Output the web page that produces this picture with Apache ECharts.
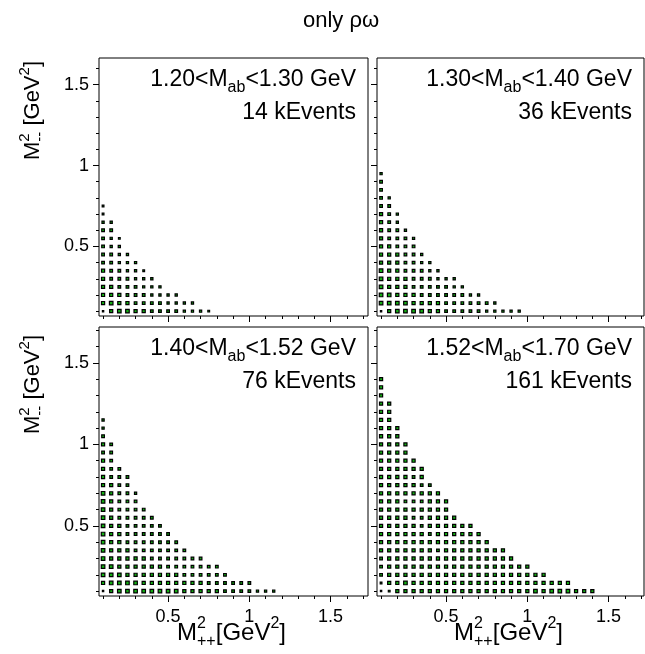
<!DOCTYPE html>
<html>
<head>
<meta charset="utf-8">
<script src="https://cdn.jsdelivr.net/npm/echarts@6/dist/echarts.min.js"></script>
<style>
  html, body { margin: 0; padding: 0; background: #fff; }
  #chart { width: 645px; height: 654px; }
</style>
</head>
<body>
<div id="chart"></div>
<script>
// Bin centres of the 2D histograms (GeV^2), shared by both axes
const binCenters = [0.10, 0.15, 0.20, 0.25, 0.30, 0.35, 0.40, 0.45, 0.50, 0.55, 0.60, 0.65, 0.70,
                    0.75, 0.80, 0.85, 0.90, 0.95, 1.00, 1.05, 1.10, 1.15, 1.20, 1.25, 1.30, 1.35, 1.40];

// Axis ticks
const majorTicks = [0.5, 1.0, 1.5];
const minorTicks = [0.1, 0.2, 0.3, 0.4, 0.6, 0.7, 0.8, 0.9, 1.1, 1.2, 1.3, 1.4, 1.6, 1.7];

// Mass windows and event counts of the four slices
const windowLow  = ['1.20', '1.30', '1.40', '1.52'];
const windowHigh = ['1.30', '1.40', '1.52', '1.70'];
const kEvents    = [14, 36, 76, 161];

// Relative bin contents; one array per M--^2 row (starting at 0.10), one entry per M++^2 bin (starting at 0.10)
const slice1 = [
  [2, 6, 7, 7, 6, 6, 5, 5, 5, 5, 4, 4, 4, 3],
  [6, 7, 6, 6, 5, 5, 5, 5, 4, 4, 4, 4],
  [6, 6, 6, 5, 5, 5, 4, 4, 4, 4],
  [6, 6, 5, 5, 5, 4, 4, 4],
  [6, 5, 5, 5, 4, 4, 4],
  [6, 5, 5, 4, 4, 3],
  [5, 5, 4, 4, 4],
  [5, 5, 4, 4],
  [5, 4, 4],
  [5, 4, 3],
  [5, 5],
  [4, 4],
  [3],
  [3]
];
const slice2 = [
  [2, 6, 7, 7, 7, 7, 6, 6, 5, 5, 5, 5, 5, 4, 4, 4, 4, 4],
  [7, 7, 7, 7, 6, 6, 6, 6, 5, 5, 5, 5, 5, 5, 4],
  [7, 7, 6, 6, 6, 5, 5, 5, 5, 5, 5, 4, 4],
  [7, 6, 6, 6, 5, 5, 5, 5, 5, 4, 4],
  [7, 6, 6, 6, 5, 5, 5, 4, 4, 4],
  [7, 6, 6, 5, 5, 5, 4, 4],
  [6, 6, 6, 5, 5, 4, 4],
  [6, 6, 6, 5, 5, 4],
  [6, 6, 5, 5, 5],
  [6, 5, 5, 5, 4],
  [6, 5, 5, 4],
  [6, 5, 4],
  [6, 5, 4],
  [5, 5],
  [5, 4],
  [5],
  [5],
  [4]
];
const slice3 = [
  [2, 6, 7, 7, 7, 7, 7, 7, 7, 7, 6, 6, 6, 6, 6, 5, 5, 5, 5, 4, 4, 4],
  [6, 7, 7, 7, 7, 6, 6, 6, 6, 6, 6, 6, 6, 5, 5, 5, 5, 5, 5],
  [7, 7, 7, 6, 6, 6, 6, 6, 6, 6, 5, 5, 5, 5, 5, 5],
  [7, 7, 6, 6, 6, 6, 6, 6, 5, 5, 5, 5, 5, 5, 5],
  [7, 6, 6, 6, 6, 6, 5, 5, 5, 5, 5, 5, 5],
  [7, 6, 6, 6, 5, 5, 5, 5, 5, 5, 5],
  [7, 6, 6, 5, 5, 5, 5, 5, 5, 5],
  [7, 6, 6, 5, 5, 5, 5, 5, 5],
  [7, 6, 6, 5, 5, 5, 5, 5],
  [7, 6, 5, 5, 5, 5, 5],
  [7, 6, 5, 5, 5, 5],
  [7, 6, 5, 5, 5],
  [7, 6, 5, 5, 4],
  [6, 6, 5, 5],
  [6, 5, 5, 5],
  [6, 5, 5],
  [6, 5],
  [5, 5],
  [6, 5],
  [5],
  [4],
  [4]
];
const slice4 = [
  [2, 3, 6, 6, 6, 6, 6, 6, 6, 6, 6, 6, 6, 6, 6, 6, 6, 6, 6, 7, 6, 7, 7, 7, 6, 6, 6],
  [3, 6, 6, 7, 6, 6, 6, 6, 6, 6, 6, 6, 6, 6, 6, 6, 6, 6, 6, 6, 6, 6, 6, 6],
  [5, 6, 6, 6, 6, 6, 6, 6, 6, 6, 6, 6, 6, 6, 6, 6, 6, 6, 6, 6, 6],
  [5, 6, 6, 6, 6, 6, 6, 6, 6, 6, 6, 6, 6, 6, 6, 6, 6, 6, 6],
  [5, 6, 6, 6, 6, 6, 6, 6, 6, 6, 6, 6, 6, 6, 6, 6, 6],
  [6, 6, 6, 6, 6, 6, 6, 5, 6, 6, 6, 6, 6, 6, 6, 6],
  [6, 6, 6, 6, 6, 6, 6, 6, 6, 6, 6, 6, 6, 6],
  [6, 6, 6, 6, 6, 6, 5, 6, 6, 6, 6, 6, 6],
  [6, 6, 6, 6, 6, 5, 6, 6, 6, 6, 6, 6],
  [6, 6, 6, 6, 5, 5, 6, 6, 6, 6],
  [6, 6, 6, 6, 6, 6, 6, 6, 6],
  [6, 6, 6, 5, 5, 5, 6, 6, 6],
  [6, 6, 6, 6, 6, 6, 6, 6],
  [6, 6, 6, 6, 6, 5, 5],
  [6, 6, 6, 6, 5, 6],
  [6, 6, 6, 6, 6, 6],
  [6, 6, 6, 6, 6],
  [6, 6, 6, 6],
  [6, 6, 6, 6],
  [6, 6, 6],
  [6, 6, 6],
  [6, 6],
  [6, 6],
  [6, 6],
  [6],
  [6],
  [6]
];
const slices = [slice1, slice2, slice3, slice4];

// ---- layout ----
const X_MIN = 0.075, Y_MIN = 0.07;
const panels = [
  { left: 99,  top: 58,  width: 269, height: 258, xMax: 1.73,  yMax: 1.665, xLabels: false, yLabels: true  },
  { left: 377, top: 58,  width: 267, height: 258, xMax: 1.718, yMax: 1.665, xLabels: false, yLabels: false },
  { left: 99,  top: 327, width: 269, height: 269, xMax: 1.73,  yMax: 1.72,  xLabels: true,  yLabels: true  },
  { left: 377, top: 327, width: 267, height: 269, xMax: 1.718, yMax: 1.72,  xLabels: true,  yLabels: false }
];
const FONT = '"Liberation Sans", Arial, Helvetica, sans-serif';
const GREEN = '#12b012';

// ---- text helpers (super/subscripts built from separate text pieces) ----
const measureCtx = document.createElement('canvas').getContext('2d');
function textWidth(t, size) {
  measureCtx.font = size + 'px ' + FONT;
  return measureCtx.measureText(t).width;
}
function textGroup(parts, x, y, anchor, rotation) {
  const items = [];
  let cx = 0;
  parts.forEach(p => {
    if (p.stack) {
      let w = 0;
      p.stack.forEach(q => { items.push({ t: q.t, size: q.size, dy: q.dy, x: cx }); w = Math.max(w, textWidth(q.t, q.size)); });
      cx += w;
    } else {
      items.push({ t: p.t, size: p.size, dy: p.dy || 0, x: cx });
      cx += textWidth(p.t, p.size);
    }
  });
  const x0 = anchor === 'right' ? -cx : anchor === 'center' ? -cx / 2 : 0;
  return {
    type: 'group', x: x, y: y, rotation: rotation || 0, silent: true,
    children: items.map(it => ({
      type: 'text', x: x0 + it.x, y: it.dy,
      style: {
        text: it.t, font: it.size + 'px ' + FONT, fill: '#000',
        textAlign: 'left', textVerticalAlign: 'middle', align: 'left', verticalAlign: 'middle'
      }
    }))
  };
}

// ---- build option ----
const grid = [], xAxis = [], yAxis = [], series = [];
panels.forEach((p, i) => {
  grid.push({ left: p.left, top: p.top, width: p.width, height: p.height,
              show: true, borderColor: '#000', borderWidth: 1, backgroundColor: 'transparent' });
  // major ticks (+labels) and minor ticks on separate axes of the same grid
  xAxis.push({
    gridIndex: i, type: 'value', position: 'bottom', min: X_MIN, max: p.xMax,
    axisLine: { show: false }, splitLine: { show: false },
    axisTick: { show: true, customValues: majorTicks, length: 6, lineStyle: { color: '#000', width: 1 } },
    axisLabel: { show: p.xLabels, customValues: majorTicks, formatter: v => String(v),
                 color: '#000', fontSize: 18, fontFamily: FONT, margin: 12 }
  });
  xAxis.push({
    gridIndex: i, type: 'value', position: 'bottom', min: X_MIN, max: p.xMax,
    axisLine: { show: false }, splitLine: { show: false },
    axisTick: { show: true, customValues: minorTicks, length: 3, lineStyle: { color: '#000', width: 1 } },
    axisLabel: { show: false }
  });
  yAxis.push({
    gridIndex: i, type: 'value', position: 'left', min: Y_MIN, max: p.yMax,
    axisLine: { show: false }, splitLine: { show: false },
    axisTick: { show: true, customValues: majorTicks, length: 6, lineStyle: { color: '#000', width: 1 } },
    axisLabel: { show: p.yLabels, customValues: majorTicks, formatter: v => String(v),
                 color: '#000', fontSize: 18, fontFamily: FONT, margin: 10 }
  });
  yAxis.push({
    gridIndex: i, type: 'value', position: 'left', min: Y_MIN, max: p.yMax,
    axisLine: { show: false }, splitLine: { show: false },
    axisTick: { show: true, customValues: minorTicks, length: 3, lineStyle: { color: '#000', width: 1 } },
    axisLabel: { show: false }
  });

  const data = [];
  slices[i].forEach((row, r) => {
    row.forEach((v, c) => data.push([binCenters[c], binCenters[r], v]));
  });
  series.push({
    type: 'scatter', xAxisIndex: 2 * i, yAxisIndex: 2 * i, data: data,
    symbol: 'rect', symbolSize: val => 0.45 * val[2] + 0.4,
    itemStyle: { color: GREEN, borderColor: '#000', borderWidth: 1.2, opacity: 1 },
    silent: true, animation: false
  });
});

const graphics = [];
// title
graphics.push(textGroup([{ t: 'only ρω', size: 22 }], 341, 21, 'center'));
// slice captions
panels.forEach((p, i) => {
  const rx = p.left + p.width - 12;
  graphics.push(textGroup([
    { t: windowLow[i] + '<M', size: 23 },
    { t: 'ab', size: 16, dy: 8 },
    { t: '<' + windowHigh[i] + ' GeV', size: 23 }
  ], rx, p.top + 22, 'right'));
  graphics.push(textGroup([{ t: kEvents[i] + ' kEvents', size: 23 }], rx, p.top + 55, 'right'));
});
// x-axis titles, centred under the panels
[panels[2], panels[3]].forEach(p => {
  graphics.push(textGroup([
    { t: 'M', size: 24 },
    { stack: [{ t: '2', size: 16, dy: -9 }, { t: '++', size: 16, dy: 9 }] },
    { t: '[GeV', size: 24 },
    { t: '2', size: 16, dy: -9 },
    { t: ']', size: 24 }
  ], p.left + p.width / 2 - 2, 633, 'center'));
});
// y-axis titles, ending at the top of the axis
[panels[0], panels[2]].forEach((p, k) => {
  graphics.push(textGroup([
    { t: 'M', size: 22 },
    { stack: [{ t: '2', size: 15, dy: -8 }, { t: '--', size: 15, dy: 7 }] },
    { t: ' [GeV', size: 22 },
    { t: '2', size: 15, dy: -8 },
    { t: ']', size: 22 }
  ], 33, p.top + (k === 0 ? 3 : 8), 'right', Math.PI / 2));
});

const chart = echarts.init(document.getElementById('chart'), null, { renderer: 'canvas' });
chart.setOption({
  animation: false,
  backgroundColor: '#fff',
  grid: grid, xAxis: xAxis, yAxis: yAxis, series: series,
  graphic: graphics
});
</script>
</body>
</html>
